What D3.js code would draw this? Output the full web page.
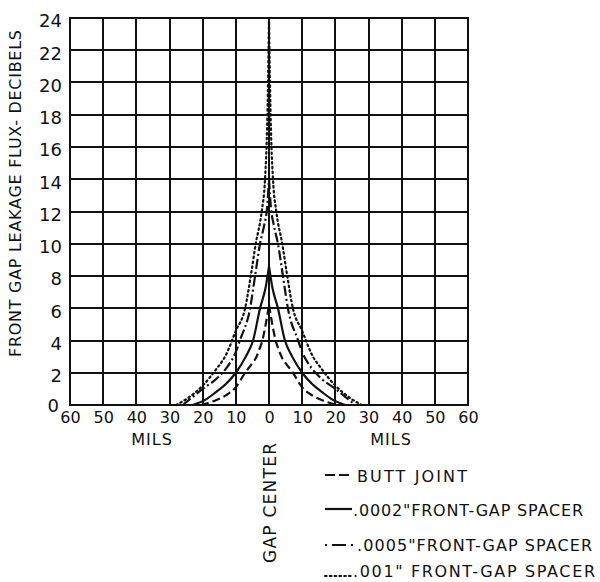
<!DOCTYPE html>
<html>
<head>
<meta charset="utf-8">
<script src="https://cdn.jsdelivr.net/npm/d3@7"></script>
<style>
  html, body { margin: 0; padding: 0; background: #fff; }
  svg { display: block; }
  text { font-family: "DejaVu Sans", sans-serif; fill: #111; }
</style>
</head>
<body>
<svg id="chart" width="600" height="582"></svg>
<script>
// ---------- data ----------
const xTickValues = [-60, -50, -40, -30, -20, -10, 0, 10, 20, 30, 40, 50, 60];
const xTickLabels = ["60", "50", "40", "30", "20", "10", "0", "10", "20", "30", "40", "50", "60"];
const yTickValues = [0, 2, 4, 6, 8, 10, 12, 14, 16, 18, 20, 22, 24];
const yTickLabels = ["0", "2", "4", "6", "8", "10", "12", "14", "16", "18", "20", "22", "24"];

const seriesNames = ["BUTT JOINT", ".0002\"FRONT-GAP SPACER", ".0005\"FRONT-GAP SPACER", ".001\" FRONT-GAP SPACER"];

const buttJointX = [-20.5, -16, -13, -10, -7.2, -5, -4, -3, -2, -1, 0, 1, 2, 3, 4, 5, 7.2, 10, 13, 16, 20.5];
const buttJointY = [0, 0.3, 0.6, 1.1, 2.0, 2.6, 2.9, 3.4, 4.0, 5.0, 6.2, 5.0, 4.0, 3.4, 2.9, 2.6, 2.0, 1.1, 0.6, 0.3, 0];

const spacer0002X = [-23, -19, -16, -13, -10, -7, -4.8, -2.7, -1, 0, 1, 2.7, 4.8, 7, 10, 13, 16, 19, 23];
const spacer0002Y = [0, 0.35, 0.8, 1.3, 2.0, 3.0, 4.0, 6.0, 7.3, 8.6, 7.3, 6.0, 4.0, 3.0, 2.0, 1.3, 0.8, 0.35, 0];

const spacer0005X = [-26, -23, -20, -16, -12.8, -10, -8.8, -5.7, -4.2, -2.7, -1.4, -0.6, 0, 0.6, 1.4, 2.7, 4.2, 5.7, 8.8, 10, 12.8, 16, 20, 23, 26];
const spacer0005Y = [0, 0.5, 1.0, 1.6, 2.3, 3.3, 4.0, 6.0, 8.0, 10.0, 11.2, 12.2, 14.0, 12.2, 11.2, 10.0, 8.0, 6.0, 4.0, 3.3, 2.3, 1.6, 1.0, 0.5, 0];

const spacer001X = [-28, -24, -20, -16, -13, -10, -7.2, -5.5, -4, -2.2, -1.2, -0.6, -0.25, 0, 0.25, 0.6, 1.2, 2.2, 4, 5.5, 7.2, 10, 13, 16, 20, 24, 28];
const spacer001Y = [0, 0.5, 1.2, 2.2, 3.1, 4.6, 6.0, 8.0, 10.0, 12.0, 14.0, 17.0, 20.5, 24.0, 20.5, 17.0, 14.0, 12.0, 10.0, 8.0, 6.0, 4.6, 3.1, 2.2, 1.2, 0.5, 0];

// ---------- layout ----------
const svg = d3.select("#chart");
const plotLeft = 70, plotRight = 468, plotTop = 18, plotBottom = 405;

const x = d3.scaleLinear().domain([-60, 60]).range([plotLeft, plotRight]);
const y = d3.scaleLinear().domain([0, 24]).range([plotBottom, plotTop]);

// grid
const grid = svg.append("g").attr("stroke", "#111").attr("stroke-width", 2).attr("shape-rendering", "crispEdges");
grid.selectAll("line.v").data(xTickValues).join("line").attr("class", "v")
  .attr("x1", d => Math.round(x(d))).attr("x2", d => Math.round(x(d)))
  .attr("y1", plotTop).attr("y2", plotBottom);
grid.selectAll("line.h").data(yTickValues).join("line").attr("class", "h")
  .attr("y1", d => Math.round(y(d))).attr("y2", d => Math.round(y(d)))
  .attr("x1", plotLeft - 1).attr("x2", plotRight + 1);

// axes (labels only)
const yAxis = svg.append("g").attr("transform", `translate(${plotLeft},0)`)
  .call(d3.axisLeft(y).tickValues(yTickValues).tickFormat((d, i) => yTickLabels[i]).tickSize(0).tickPadding(8));
yAxis.select(".domain").remove();
yAxis.selectAll("text").attr("font-family", "DejaVu Sans, sans-serif").attr("font-size", 18).attr("fill", "#111")
  .attr("y", d => d === 0 ? 1 : 3).attr("x", d => d === 0 ? -11 : -8);

const xAxis = svg.append("g").attr("transform", `translate(0,${plotBottom})`)
  .call(d3.axisBottom(x).tickValues(xTickValues).tickFormat((d, i) => xTickLabels[i]).tickSize(0).tickPadding(7));
xAxis.select(".domain").remove();
xAxis.selectAll("text").attr("font-family", "DejaVu Sans, sans-serif").attr("font-size", 16).attr("fill", "#111");

// axis titles
svg.append("text").attr("transform", "translate(15,193.5) rotate(-90)")
  .attr("text-anchor", "middle").attr("dy", "0.36em")
  .attr("font-size", 16).attr("textLength", 327).attr("lengthAdjust", "spacing")
  .text("FRONT GAP LEAKAGE FLUX- DECIBELS");

svg.append("text").attr("x", 152).attr("y", 445).attr("text-anchor", "middle")
  .attr("font-size", 16).attr("letter-spacing", 1).text("MILS");
svg.append("text").attr("x", 391).attr("y", 445).attr("text-anchor", "middle")
  .attr("font-size", 16).attr("letter-spacing", 1).text("MILS");

svg.append("text").attr("transform", "translate(270,503) rotate(-90)")
  .attr("text-anchor", "middle").attr("dy", "0.36em")
  .attr("font-size", 17).attr("textLength", 120).attr("lengthAdjust", "spacing")
  .text("GAP CENTER");

// ---------- curves ----------
const styles = [
  { dash: "8,4", cap: "butt" },
  { dash: null, cap: "butt" },
  { dash: "10,3,2,3", cap: "butt" },
  { dash: "1.6,3.2", cap: "round" }
];
const seriesData = [
  [buttJointX, buttJointY],
  [spacer0002X, spacer0002Y],
  [spacer0005X, spacer0005Y],
  [spacer001X, spacer001Y]
];

const line = d3.line().x(d => x(d[0])).y(d => y(d[1])).curve(d3.curveMonotoneX);
const curves = svg.append("g").attr("fill", "none").attr("stroke", "#111").attr("stroke-width", 2.2);

seriesData.forEach(([xs, ys], i) => {
  const pts = xs.map((v, j) => [v, ys[j]]);
  const leftBranch = pts.filter(p => p[0] <= 0);
  const rightBranch = pts.filter(p => p[0] >= 0);
  [leftBranch, rightBranch].forEach(branch => {
    const p = curves.append("path").attr("d", line(branch))
      .attr("stroke-linecap", styles[i].cap);
    if (styles[i].dash) p.attr("stroke-dasharray", styles[i].dash);
  });
});

// ---------- legend ----------
const legendRows = [
  { ly: 475, ty: 482, textX: 357, len: 110 },
  { ly: 509, ty: 516, textX: 353, len: 230 },
  { ly: 545, ty: 551, textX: 357, len: 235 },
  { ly: 576, ty: 577, textX: 353, len: 242 }
];
const legend = svg.append("g");
legendRows.forEach((r, i) => {
  const l = legend.append("line")
    .attr("x1", 325).attr("x2", i === 2 ? 355 : 352)
    .attr("y1", r.ly).attr("y2", r.ly)
    .attr("stroke", "#111").attr("stroke-width", 2.2)
    .attr("stroke-linecap", styles[i].cap);
  if (i === 0) l.attr("stroke-dasharray", "10,4");
  else if (i === 2) l.attr("stroke-dasharray", "2,5,14,5,2");
  else if (styles[i].dash) l.attr("stroke-dasharray", styles[i].dash);
  legend.append("text").attr("x", r.textX).attr("y", r.ty)
    .attr("font-size", 16).attr("textLength", r.len).attr("lengthAdjust", "spacing")
    .text(seriesNames[i]);
});
</script>
</body>
</html>
